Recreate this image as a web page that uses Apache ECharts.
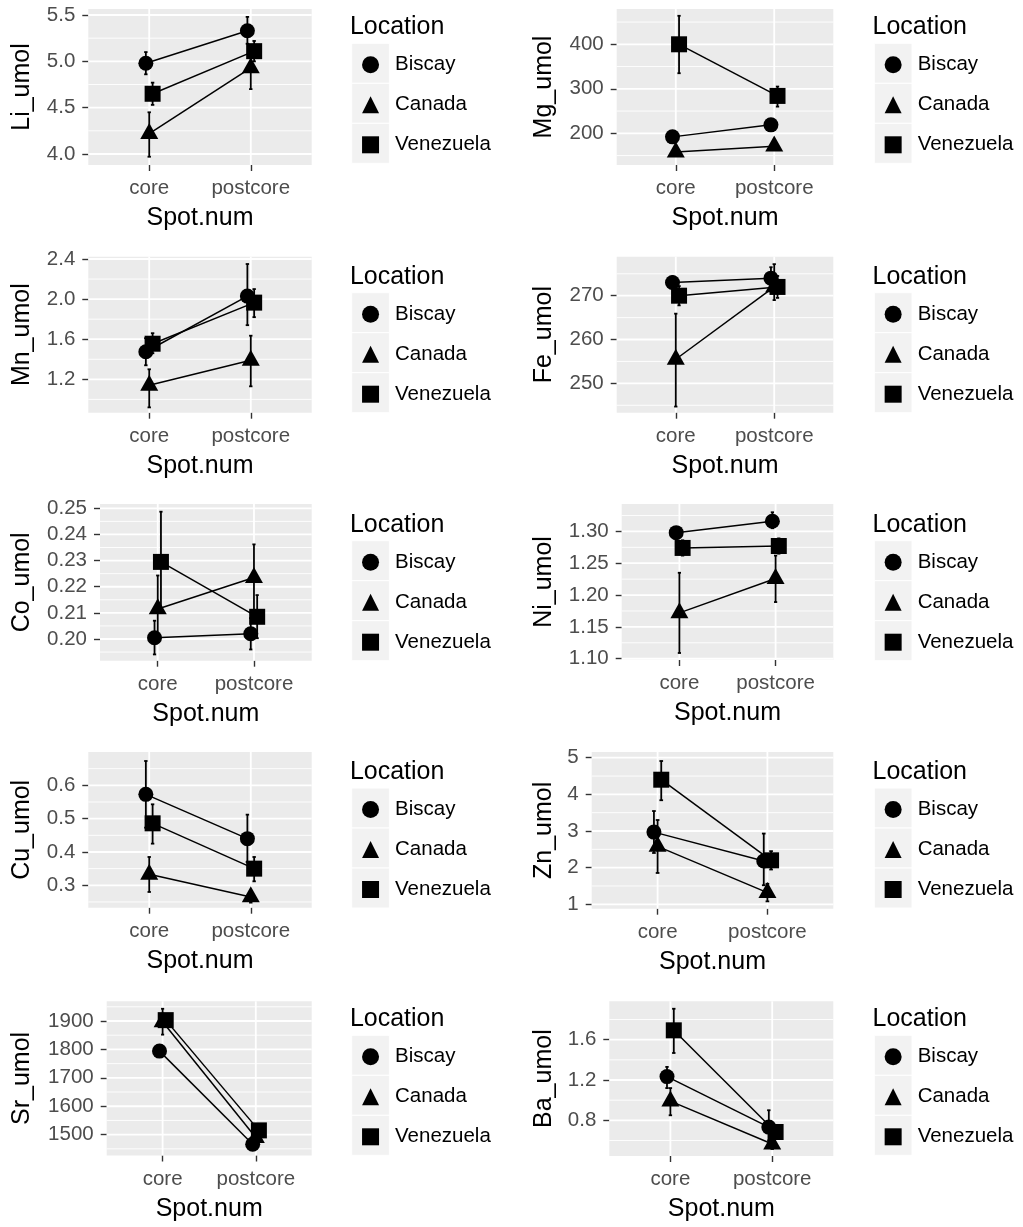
<!DOCTYPE html>
<html><head><meta charset="utf-8">
<script src="https://cdn.jsdelivr.net/npm/echarts@6/dist/echarts.min.js"></script>
<style>html,body{margin:0;padding:0;background:#fff}#c{width:1023px;height:1227px}</style>
</head><body><div id="c"></div>
<script>
// ---------- DATA ----------
const categories = ['core', 'postcore'];
const locations = ['Biscay', 'Canada', 'Venezuela'];
const yTitles = ['Li_umol', 'Mg_umol', 'Mn_umol', 'Fe_umol', 'Co_umol', 'Ni_umol', 'Cu_umol', 'Zn_umol', 'Sr_umol', 'Ba_umol'];
const xTitle = 'Spot.num';
const legendTitle = 'Location';

// rows: Biscay, Canada, Venezuela ; columns: core, postcore
const liMean = [[4.98, 5.33], [4.22, 4.93], [4.65, 5.11]];
const liLow  = [[4.86, 5.19], [3.97, 4.70], [4.53, 5.00]];
const liHigh = [[5.10, 5.48], [4.45, 5.14], [4.77, 5.22]];
const liTicks = ['4.0', '4.5', '5.0', '5.5'];

const mgMean = [[192, 219], [158, 171], [400, 284]];
const mgLow  = [[180, 208], [150, 163], [335, 260]];
const mgHigh = [[204, 230], [166, 180], [464, 305]];
const mgTicks = ['200', '300', '400'];

const mnMean = [[1.475, 2.03], [1.14, 1.39], [1.555, 1.965]];
const mnLow  = [[1.34, 1.74], [0.92, 1.13], [1.46, 1.82]];
const mnHigh = [[1.61, 2.35], [1.30, 1.635], [1.66, 2.10]];
const mnTicks = ['1.2', '1.6', '2.0', '2.4'];

const feMean = [[273.0, 274.0], [255.5, 272.0], [270.0, 272.0]];
const feLow  = [[271.6, 271.5], [244.7, 269.0], [267.8, 269.5]];
const feHigh = [[274.4, 276.5], [265.9, 277.2], [272.2, 274.5]];
const feTicks = ['250', '260', '270'];

const coMean = [[0.2005, 0.2020], [0.2115, 0.2235], [0.2295, 0.2085]];
const coLow  = [[0.1941, 0.1960], [0.1990, 0.2110], [0.2105, 0.2003]];
const coHigh = [[0.2070, 0.2080], [0.2243, 0.2362], [0.2487, 0.2168]];
const coTicks = ['0.20', '0.21', '0.22', '0.23', '0.24', '0.25'];

const niMean = [[1.298, 1.316], [1.172, 1.226], [1.274, 1.277]];
const niLow  = [[1.292, 1.305], [1.109, 1.189], [1.262, 1.265]];
const niHigh = [[1.305, 1.330], [1.235, 1.262], [1.286, 1.289]];
const niTicks = ['1.10', '1.15', '1.20', '1.25', '1.30'];

const cuMean = [[0.573, 0.440], [0.333, 0.265], [0.486, 0.350]];
const cuLow  = [[0.473, 0.370], [0.280, 0.248], [0.425, 0.312]];
const cuHigh = [[0.673, 0.512], [0.385, 0.282], [0.543, 0.385]];
const cuTicks = ['0.3', '0.4', '0.5', '0.6'];

const znMean = [[2.97, 2.18], [2.58, 1.32], [4.40, 2.20]];
const znLow  = [[2.40, 1.52], [1.855, 1.08], [3.84, 1.95]];
const znHigh = [[3.545, 2.93], [3.30, 1.56], [4.91, 2.45]];
const znTicks = ['1', '2', '3', '4', '5'];

const srMean = [[1794, 1466], [1897, 1490], [1903, 1515]];
const srLow  = [[1780, 1455], [1852, 1475], [1885, 1500]];
const srHigh = [[1808, 1477], [1943, 1505], [1921, 1530]];
const srTicks = ['1500', '1600', '1700', '1800', '1900'];

const baMean = [[1.234, 0.733], [0.99, 0.565], [1.693, 0.684]];
const baLow  = [[1.12, 0.60], [0.85, 0.515], [1.468, 0.62]];
const baHigh = [[1.33, 0.90], [1.12, 0.615], [1.907, 0.75]];
const baTicks = ['0.8', '1.2', '1.6'];

// ---------- LAYOUT ----------
const gridBoxes = [
  [88.3, 9, 223.4, 156], [616.7, 9, 216.6, 156],
  [88.3, 256.7, 223.4, 156], [616.7, 256.7, 216.6, 156],
  [100, 504, 211.7, 156.7], [621.7, 504, 211.6, 156],
  [88.3, 752, 223.4, 155.7], [591.7, 752, 241.6, 156.7],
  [106.7, 1001.3, 205, 154.2], [609.3, 1001.3, 224, 154.7]
];
const yLimits = [
  [3.881, 5.565], [128.8, 479.3], [0.867, 2.423], [243.3, 278.9], [0.1917, 0.25165],
  [1.098, 1.343], [0.2328, 0.70], [0.88, 5.156], [1426.6, 1969.3], [0.446, 1.981]
];
const legendTops = [43.3, 292.7, 540.7, 788, 1035.3];
const colKeyLeft = [351.7, 874.3];
const colTitleMid = [22.6, 544.6];
const FONT = "'Liberation Sans', Arial, sans-serif";
const TXT = 20.5, TTL = 25;
const DODGE = 0.1;

const means = [liMean, mgMean, mnMean, feMean, coMean, niMean, cuMean, znMean, srMean, baMean];
const lows = [liLow, mgLow, mnLow, feLow, coLow, niLow, cuLow, znLow, srLow, baLow];
const highs = [liHigh, mgHigh, mnHigh, feHigh, coHigh, niHigh, cuHigh, znHigh, srHigh, baHigh];
const ticks = [liTicks, mgTicks, mnTicks, feTicks, coTicks, niTicks, cuTicks, znTicks, srTicks, baTicks];

const symbols = ['circle', 'triangle', 'rect'];
const symSizes = [15, [18, 16], 16];
const symOffsets = [[0, 0], [0, -2.6], [0, 0]];

function xd(ci, li) { return ci + 1 + (li - 1) * DODGE / 3; }

function renderGrid(params, api) {
  const cs = params.coordSys;
  const v = api.value(0), kind = api.value(1);
  if (kind === 2) {
    const x = api.coord([v, 0])[0];
    return {type: 'line', shape: {x1: x, y1: cs.y, x2: x, y2: cs.y + cs.height}, style: {stroke: '#fff', lineWidth: 1.8}};
  }
  const y = api.coord([1, v])[1];
  return {type: 'line', shape: {x1: cs.x, y1: y, x2: cs.x + cs.width, y2: y},
          style: {stroke: '#fff', lineWidth: kind === 0 ? 1.8 : 0.9}};
}
function renderErr(params, api) {
  const x = api.value(0), lo = api.value(1), hi = api.value(2);
  const a = api.coord([x, lo]), b = api.coord([x, hi]);
  const half = api.coord([x + DODGE / 6, lo])[0] - a[0];
  const st = {stroke: '#000', lineWidth: 1.8};
  return {type: 'group', children: [
    {type: 'line', shape: {x1: a[0], y1: a[1], x2: b[0], y2: b[1]}, style: st},
    {type: 'line', shape: {x1: a[0] - half, y1: a[1], x2: a[0] + half, y2: a[1]}, style: st},
    {type: 'line', shape: {x1: b[0] - half, y1: b[1], x2: b[0] + half, y2: b[1]}, style: st}
  ]};
}

const option = {animation: false, grid: [], xAxis: [], yAxis: [], series: [], legend: [], title: [], graphic: []};

for (let i = 0; i < 10; i++) {
  const [gl, gt, gw, gh] = gridBoxes[i];
  const col = i % 2, row = Math.floor(i / 2);
  const tickLabels = ticks[i];
  const tickVals = tickLabels.map(Number);
  const [ymin, ymax] = yLimits[i];
  option.grid.push({left: gl, top: gt, width: gw, height: gh, show: true, backgroundColor: '#EBEBEB', borderWidth: 0, containLabel: false});
  option.xAxis.push({
    gridIndex: i, type: 'value', min: 0.4, max: 2.6,
    axisLine: {show: false},
    axisTick: {show: true, customValues: [1, 2], length: 6, lineStyle: {color: '#333333', width: 1.4}},
    axisLabel: {customValues: [1, 2], formatter: v => categories[Math.round(v) - 1], color: '#4D4D4D', fontSize: TXT, margin: 13, fontFamily: FONT},
    splitLine: {show: false},
    name: xTitle, nameLocation: 'middle', nameGap: 41,
    nameTextStyle: {fontSize: TTL, color: '#000', fontFamily: FONT}
  });
  option.yAxis.push({
    gridIndex: i, type: 'value', min: ymin, max: ymax,
    axisLine: {show: false},
    axisTick: {show: true, customValues: tickVals, length: 6, lineStyle: {color: '#333333', width: 1.4}},
    axisLabel: {customValues: tickVals,
      formatter: v => { const s = tickLabels.find(t => Math.abs(Number(t) - v) < 1e-9); return s === undefined ? '' : s; },
      color: '#4D4D4D', fontSize: TXT, margin: 13, fontFamily: FONT},
    splitLine: {show: false},
    name: yTitles[i], nameLocation: 'middle', nameRotate: 90, nameGap: gl - (colTitleMid[col] + TTL / 2),
    nameTextStyle: {fontSize: TTL, color: '#000', fontFamily: FONT}
  });
  // gridlines
  const step = tickVals[1] - tickVals[0];
  const gridData = tickVals.map(v => [v, 0]);
  const mids = [tickVals[0] - step / 2];
  for (let k = 0; k < tickVals.length - 1; k++) mids.push((tickVals[k] + tickVals[k + 1]) / 2);
  mids.push(tickVals[tickVals.length - 1] + step / 2);
  mids.filter(v => v > ymin && v < ymax).forEach(v => gridData.push([v, 1]));
  categories.forEach((c, ci) => gridData.push([ci + 1, 2]));
  option.series.push({type: 'custom', name: 'grid' + i, xAxisIndex: i, yAxisIndex: i, renderItem: renderGrid, data: gridData, z: 1, silent: true});
  // error bars
  const errData = [];
  locations.forEach((loc, li) => categories.forEach((c, ci) => errData.push([xd(ci, li), lows[i][li][ci], highs[i][li][ci]])));
  option.series.push({type: 'custom', name: 'err' + i, xAxisIndex: i, yAxisIndex: i, renderItem: renderErr,
    encode: {x: 0, y: [1, 2]}, data: errData, z: 2, silent: true});
  // lines + points
  locations.forEach((loc, li) => {
    option.series.push({
      type: 'line', name: loc, xAxisIndex: i, yAxisIndex: i,
      data: categories.map((c, ci) => [xd(ci, li), means[i][li][ci]]),
      symbol: symbols[li], symbolSize: symSizes[li], symbolOffset: symOffsets[li], showSymbol: true,
      itemStyle: {color: '#000'}, lineStyle: {color: '#000', width: 1.5},
      z: 3, silent: true, emphasis: {disabled: true}, clip: false
    });
  });
  // legend
  const keyLeft = colKeyLeft[col], keyTop = legendTops[row];
  option.legend.push({
    orient: 'vertical', left: keyLeft + 18.85 - 8.5, top: keyTop + 1.5, padding: 0,
    itemWidth: 17, itemHeight: 17, itemGap: 0, selectedMode: false,
    textStyle: {fontSize: TXT, color: '#000', fontFamily: FONT, lineHeight: 40, padding: [0, 0, 0, 11]},
    data: locations.map((loc, li) => ({name: loc, icon: symbols[li]}))
  });
  option.title.push({
    text: legendTitle, left: keyLeft - 1.8, top: keyTop - 28.5, padding: 0,
    textStyle: {fontSize: TTL, fontWeight: 'normal', color: '#000', fontFamily: FONT}
  });
  locations.forEach((loc, li) => {
    option.graphic.push({type: 'rect', z: -1, silent: true,
      shape: {x: keyLeft, y: keyTop + li * 40, width: 37.7, height: 40},
      style: {fill: '#F2F2F2', stroke: '#fff', lineWidth: 1}});
  });
}

const chart = echarts.init(document.getElementById('c'), null, {renderer: 'canvas'});
chart.setOption(option);
</script>
</body></html>
